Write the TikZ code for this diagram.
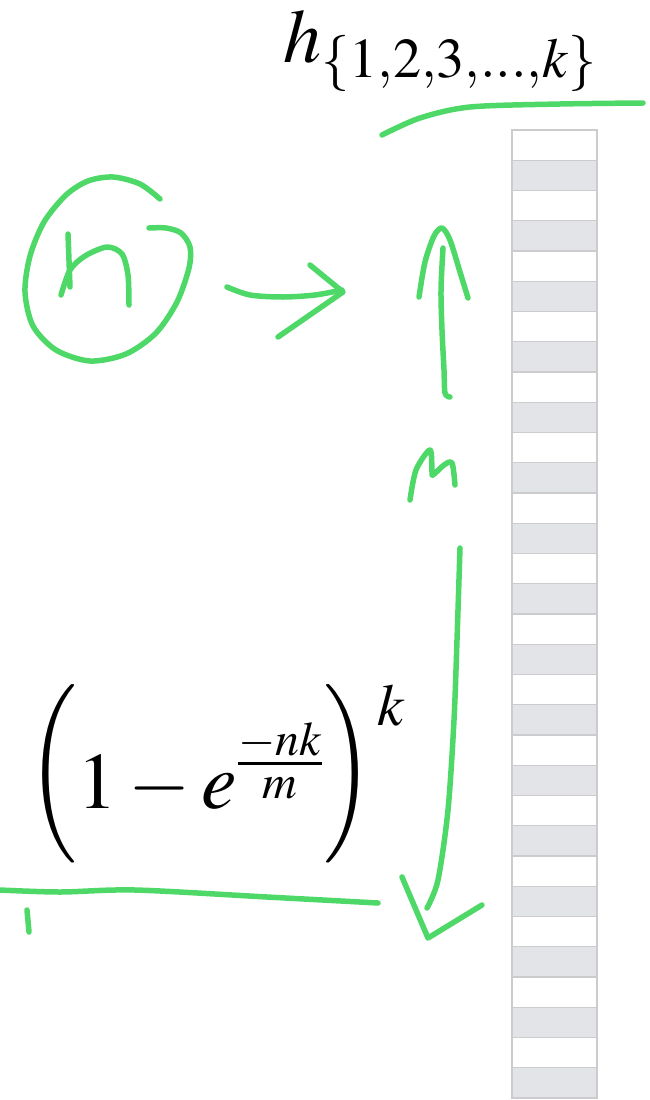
\documentclass[tikz,border=0pt]{standalone}
\usepackage{amsmath}
\usepackage{graphicx}
\usepackage{mathptmx}
\usepackage{tikz}
\usetikzlibrary{arrows.meta, positioning, calc}
\usepackage{xcolor}
\definecolor{inkgreen}{RGB}{78,216,104}
\definecolor{cellgray}{RGB}{227,228,232}
\definecolor{cellline}{RGB}{204,204,206}
\tikzset{
  ink/.style={draw=inkgreen, line width=5.5pt, line cap=round, line join=round},
  bitcell/.style={draw=cellline, line width=1.3pt, fill=white},
  bitset/.style={bitcell, fill=cellgray}
}
\newcommand{\tallparen}[1]{\raisebox{9pt}{\scalebox{1.05}[1.24]{$#1$}}}

\begin{document}
\begin{tikzpicture}[x=1pt, y=-1pt]
\useasboundingbox (0,0) rectangle (649,1100);
% bit array
\foreach \i in {0,...,31} {
  \pgfmathsetmacro\ty{130+30.25*\i}
  \pgfmathsetmacro\by{\ty+30.25}
  \ifodd\i
    \draw[bitset] (512,\ty) rectangle (597,\by);
  \else
    \draw[bitcell] (512,\ty) rectangle (597,\by);
  \fi
}
\node[anchor=base west, inner sep=0pt, font=\fontsize{76}{80}\selectfont] (hashes) at (283,62)
  {$h_{\{1,2,3,\ldots,k\}}$};
\node[anchor=base west, inner sep=0pt, font=\fontsize{80}{84}\selectfont] (fprate) at (27,808)
  {$\mathopen{\tallparen{\Bigl(}}1-e^{\frac{-nk}{m}}\mathclose{\tallparen{\Bigr)}}^{\hspace{4pt}\raisebox{-18pt}{$\scriptstyle k$}}$};
% ink over the top
\draw[ink] plot[smooth] coordinates {(382,135) (420,118) (470,107) (560,104) (643,103)};
\draw[ink] plot[smooth] coordinates {(160,199) (140,184) (113,177) (88,181) (66,195)
  (44,222) (30,256) (25,292) (33,326) (56,350) (90,361) (126,354) (156,333)
  (177,302) (189,268) (190,247) (181,233) (166,228) (149,228)};
\draw[ink] (68,234) -- (70,287);
\draw[ink] plot[smooth] coordinates {(61,295) (70,270) (85,256) (107,247) (122,254) (128,275) (129,305)};
\draw[ink] plot[smooth] coordinates {(227,287) (250,295) (283,297) (315,295) (342,290)};
\draw[ink] (310,265) -- (343,292) -- (278,337);
% m up and down
\draw[ink] plot[smooth] coordinates {(443,248) (441,290) (442,330) (444,370) (445,393) (450,397)};
\draw[ink] plot[smooth] coordinates {(419,297) (425,262) (434,236) (442,228) (450,240) (460,272) (468,298)};
\draw[ink] plot[smooth] coordinates {(410,500) (416,470) (430,450) (432,472) (433,475) (444,465) (452,463) (455,485)};
\draw[ink] plot[smooth] coordinates {(460,548) (457,640) (454,720) (448,810) (438,880) (427,908)};
\draw[ink] (402,877) -- (428,938) -- (482,905);
% underline of the formula
\draw[ink] plot[smooth] coordinates {(0,890) (60,892) (135,890) (267,897) (378,903)};
\draw[ink] (27,910) -- (29,932);
\end{tikzpicture}
\end{document}
